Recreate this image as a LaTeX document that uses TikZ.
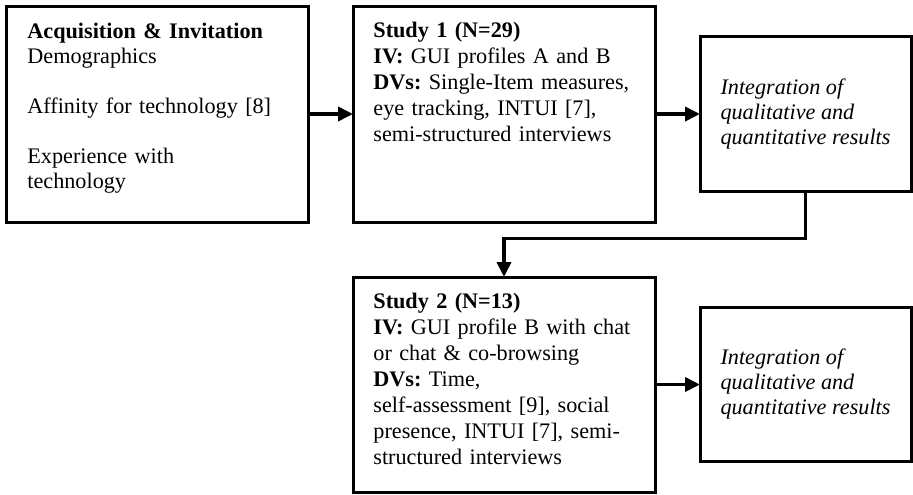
\documentclass[tikz,border=0pt]{standalone}
\usepackage{fontspec}
\setmainfont{Liberation Serif}
\usetikzlibrary{positioning, arrows.meta}
\frenchspacing

\begin{document}
\begin{tikzpicture}
	[node distance=22.5pt,
	 box/.style={draw, line width=1.5pt, outer sep=0pt, minimum width=151pt},
	 intbox/.style={draw, line width=1.5pt, outer sep=0pt, minimum width=105.5pt,
	   align=left, font=\fontsize{11.1}{12.5}\selectfont\itshape},
	 txt/.style={inner sep=0pt, anchor=north west, align=left, text width=135pt,
	   font=\fontsize{11.1}{13}\selectfont},
	 arr/.style={line width=1.8pt, -{Triangle[length=7.5pt,width=7pt]}}]
   \useasboundingbox (0,0) rectangle (456.5pt,-247pt);
   \node[box, anchor=north west, minimum height=108pt] (acq) at (3pt,-3pt) {};
   \node[box, minimum height=108pt] (s1) [right=of acq] {};
   \node[intbox, minimum height=77.5pt] (int1) [right=of s1]
     {Integration of\\ qualitative and\\ quantitative results};
   \node[box, minimum height=107.5pt] (s2) [below=27.5pt of s1] {};
   \node[intbox, minimum height=77pt] (int2) [right=of s2]
     {Integration of\\ qualitative and\\ quantitative results};
   \node[txt, font=\fontsize{11.1}{12.5}\selectfont] (acq-txt) [below right=8.3pt and 10.5pt of acq.north west]
     {\textbf{Acquisition \& Invitation}\\ Demographics\\[12.5pt]
      Affinity for technology [8]\\[12.5pt] Experience with\\ technology};
   \node[txt] (s1-txt) [below right=7.6pt and 10pt of s1.north west]
     {\textbf{Study 1 (N=29)}\\ \textbf{IV:} GUI profiles A and B\\
      \textbf{DVs:} Single-Item measures,\\ eye tracking, INTUI [7],\\
      semi-structured interviews};
   \node[txt] (s2-txt) [below right=7.6pt and 10pt of s2.north west]
     {\textbf{Study 2 (N=13)}\\ \textbf{IV:} GUI profile B with chat\\
      or chat \& co-browsing\\ \textbf{DVs:} Time,\\
      self-assessment [9], social\\ presence, INTUI [7], semi-\\
      structured interviews};
   \draw[arr] (acq.east) -- (s1.west);
   \draw[arr] (s1.east) -- (int1.west);
   \draw[arr] (s2.east) -- (int2.west);
   \draw[arr] (int1.south) -- ++(0,-23.5pt) -| (s2.north);
\end{tikzpicture}
\end{document}
